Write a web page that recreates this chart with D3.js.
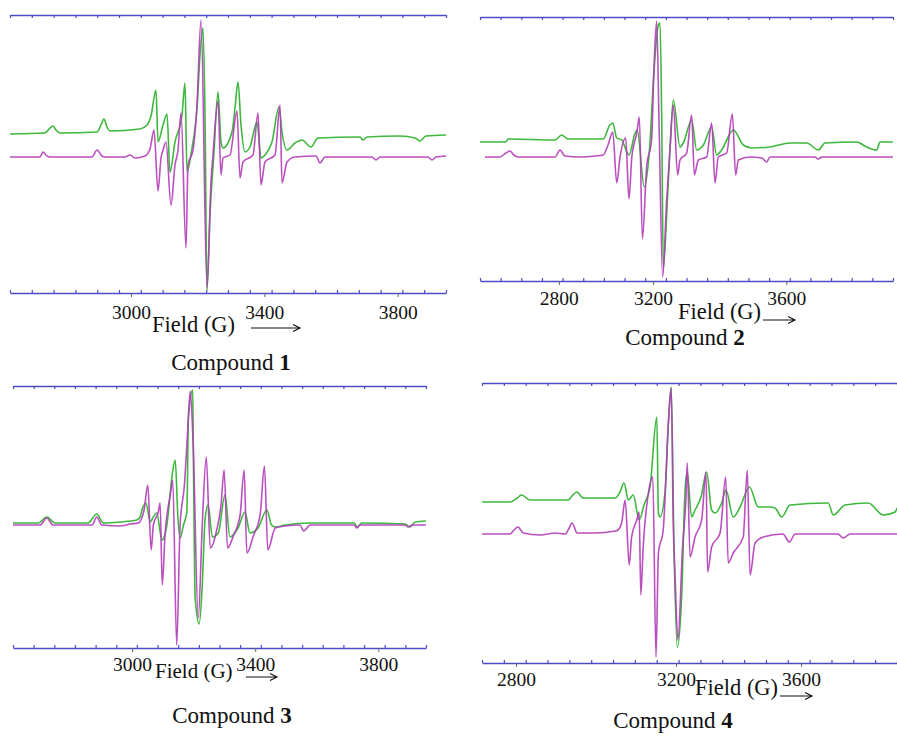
<!DOCTYPE html>
<html>
<head>
<meta charset="utf-8">
<script src="https://cdn.jsdelivr.net/npm/d3@7"></script>
<style>
  body { margin: 0; background: #fff; }
  svg text { font-family: "Liberation Serif", "Times New Roman", serif; fill: #111; }
</style>
</head>
<body>
<div id="chart"></div>
<script>
// EPR spectra, [field (G), intensity (a.u.)]
var c1Magenta = [[2637,0],[2727,0],[2736,5],[2748,1],[2757,0],[2883,0],[2898,7],[2913,1],[2922,0],[2982,0],[2997,2],[3012,-1],[3042,1],[3057,8],[3069,27],[3081,-34],[3090,-1],[3096,7],[3105,15],[3120,-48],[3132,-8],[3141,7],[3150,44],[3165,-91],[3171,-8],[3186,7],[3198,52],[3210,137],[3228,-131],[3240,-25],[3246,2],[3261,56],[3270,-18],[3276,-1],[3297,2],[3318,46],[3327,-21],[3336,-5],[3366,2],[3381,44],[3390,-28],[3402,-5],[3432,2],[3447,52],[3453,-26],[3468,-5],[3492,0],[3555,1],[3567,-6],[3582,0],[3723,0],[3735,-3],[3747,0],[3891,0],[3903,-3],[3915,0],[3945,1]];
var c1Green = [[2637,23],[2742,24],[2757,29],[2766,31],[2775,27],[2787,24],[2898,25],[2910,32],[2919,38],[2928,30],[2937,26],[3027,28],[3048,32],[3060,41],[3075,67],[3081,15],[3096,32],[3108,43],[3117,-15],[3132,15],[3153,42],[3162,74],[3168,-15],[3183,9],[3198,49],[3207,102],[3216,129],[3222,42],[3228,-133],[3237,-58],[3249,5],[3261,65],[3270,15],[3276,9],[3303,25],[3312,49],[3321,75],[3330,32],[3342,5],[3357,10],[3378,35],[3390,-1],[3402,2],[3423,15],[3444,50],[3453,25],[3468,7],[3492,14],[3513,17],[3540,10],[3561,19],[3687,20],[3696,17],[3708,20],[3807,21],[3852,19],[3867,16],[3885,21],[3945,22]];

var c2Magenta = [[2486,0],[2550,0],[2575,4],[2592,6],[2609,2],[2626,0],[2784,0],[2805,7],[2826,1],[2890,0],[2954,1],[2988,2],[3009,12],[3029,25],[3046,-26],[3060,0],[3084,19],[3098,-42],[3110,0],[3131,24],[3142,40],[3155,-82],[3173,-10],[3194,17],[3203,90],[3211,136],[3218,37],[3229,-120],[3241,-43],[3251,7],[3261,52],[3274,-18],[3281,-3],[3301,4],[3316,42],[3324,-18],[3336,-3],[3361,0],[3376,34],[3386,-26],[3396,0],[3421,4],[3438,43],[3448,-18],[3456,-3],[3491,0],[3527,-1],[3541,-5],[3551,0],[3686,0],[3695,-2],[3707,0],[3920,0]];
var c2Green = [[2465,15],[2575,15],[2584,18],[2784,17],[2812,22],[2839,18],[2988,18],[3017,32],[3029,34],[3046,19],[3067,17],[3098,2],[3124,24],[3133,27],[3163,-30],[3187,14],[3201,75],[3216,132],[3221,134],[3226,42],[3231,-111],[3241,-58],[3251,9],[3261,57],[3281,10],[3291,14],[3316,37],[3331,7],[3351,12],[3376,30],[3391,2],[3406,7],[3441,27],[3471,12],[3496,9],[3551,10],[3611,14],[3661,14],[3696,7],[3716,14],[3811,15],[3841,10],[3871,7],[3881,15],[3920,15]];

var c3Magenta = [[2613,0],[2701,0],[2723,7],[2743,0],[2870,0],[2885,8],[2902,0],[2961,-1],[2994,1],[3020,2],[3039,15],[3051,40],[3062,-25],[3069,0],[3085,13],[3091,22],[3098,-60],[3107,-10],[3124,30],[3132,45],[3145,-120],[3156,0],[3170,40],[3179,85],[3189,134],[3198,85],[3215,-93],[3228,0],[3241,68],[3254,-23],[3275,-5],[3289,20],[3299,55],[3310,-23],[3329,-11],[3351,10],[3364,55],[3373,-28],[3394,-11],[3416,10],[3430,59],[3441,-25],[3465,-3],[3497,-1],[3546,0],[3557,-6],[3579,0],[3722,0],[3730,-3],[3741,0],[3887,0],[3897,-2],[3910,0],[3955,0]];
var c3Green = [[2613,2],[2695,2],[2723,8],[2750,2],[2857,2],[2885,11],[2907,2],[2961,3],[3015,5],[3026,8],[3032,15],[3045,22],[3059,3],[3069,8],[3080,12],[3097,-15],[3113,0],[3129,47],[3140,65],[3149,7],[3156,-13],[3167,0],[3178,13],[3183,107],[3197,135],[3199,73],[3205,-73],[3218,-99],[3228,-60],[3237,5],[3247,20],[3261,-12],[3280,-8],[3302,30],[3318,-12],[3344,-3],[3367,13],[3383,-8],[3409,-3],[3438,15],[3453,0],[3465,-2],[3497,0],[3579,2],[3722,2],[3731,-2],[3747,2],[3887,1],[3903,-2],[3920,3],[3955,4]];

var c4Magenta = [[2715,0],[2785,0],[2795,4],[2805,7],[2818,1],[2860,-1],[2898,1],[2923,0],[2933,6],[2940,11],[2953,1],[2998,1],[3048,3],[3055,4],[3064,11],[3073,34],[3083,-31],[3089,-3],[3102,14],[3108,22],[3112,-61],[3118,-13],[3131,41],[3142,57],[3150,-123],[3156,-19],[3168,4],[3181,111],[3188,146],[3193,14],[3198,-46],[3206,-106],[3221,-13],[3232,37],[3236,71],[3245,-23],[3261,-3],[3282,14],[3296,62],[3301,-38],[3314,-13],[3341,1],[3359,57],[3367,-29],[3383,-19],[3415,-3],[3428,64],[3437,-41],[3453,-9],[3479,-3],[3542,0],[3563,-8],[3581,0],[3718,0],[3735,-4],[3757,0],[3907,0]];
var c4Green = [[2715,32],[2785,32],[2800,35],[2814,39],[2835,34],[2930,34],[2940,38],[2952,42],[2968,36],[3048,36],[3060,42],[3070,51],[3081,34],[3093,39],[3108,14],[3120,29],[3135,47],[3152,117],[3156,21],[3160,17],[3173,44],[3181,111],[3188,147],[3195,-13],[3204,-113],[3218,-63],[3229,44],[3236,62],[3250,17],[3261,24],[3280,37],[3298,62],[3314,24],[3325,21],[3346,31],[3360,44],[3383,17],[3405,27],[3435,47],[3463,27],[3501,27],[3517,26],[3538,17],[3565,29],[3687,31],[3703,19],[3741,29],[3815,31],[3863,19],[3901,22],[3907,26]];

var c1Ticks = [3000, 3400, 3800];
var c2Ticks = [2800, 3200, 3600];
var c3Ticks = [3000, 3400, 3800];
var c4Ticks = [2800, 3200, 3600];

var axisColor = "#4b4bc8",
    greenColor = "#3db83d",
    magentaColor = "#b23cb8";

// layout of the four panels
var panels = [
  {num: "1", magenta: c1Magenta, green: c1Green, ticks: c1Ticks,
   field: [2637, 3945], px: [10, 446], top: 15, bottom: 293, yDomain: [-136, 142], minor: 20,
   labelDy: 26, fieldX: 152, fieldY: 332, fieldSize: 22.5, arrow: [251, 300, 328], capX: 231, capY: 370},
  {num: "2", magenta: c2Magenta, green: c2Green, ticks: c2Ticks,
   field: [2465, 3200, 3920], px: [480, 653, 893], top: 17, bottom: 281, yDomain: [-124, 140], minor: 20,
   labelDy: 24, fieldX: 678, fieldY: 319, fieldSize: 22.5, arrow: [763, 795, 320], capX: 685, capY: 345},
  {num: "3", magenta: c3Magenta, green: c3Green, ticks: c3Ticks,
   field: [2613, 3955], px: [13, 426], top: 386, bottom: 648, yDomain: [-123, 139], minor: 20,
   labelDy: 23, fieldX: 155, fieldY: 678, fieldSize: 21, arrow: [246, 277, 677], capX: 232, capY: 723},
  {num: "4", magenta: c4Magenta, green: c4Green, ticks: c4Ticks,
   field: [2715, 3200, 3907], px: [482, 676, 897], top: 383, bottom: 663, yDomain: [-129, 151], minor: 19,
   labelDy: 23, fieldX: 695, fieldY: 695, fieldSize: 22.5, arrow: [780, 812, 696], capX: 673, capY: 728}
];

var svg = d3.select("#chart")
  .append("svg")
  .attr("width", 897)
  .attr("height", 736);

panels.forEach(function(p) {
  var x = d3.scaleLinear().domain(p.field).range(p.px);
  var y = d3.scaleLinear().domain(p.yDomain).range([p.bottom, p.top]);

  var g = svg.append("g").attr("class", "panel");

  // minor ticks evenly spaced along each frame line
  var r0 = p.px[0], r1 = p.px[p.px.length - 1];
  var minorVals = d3.range(p.minor + 1).map(function(i) { return x.invert(r0 + i * (r1 - r0) / p.minor); });

  var topAxis = g.append("g")
      .attr("transform", "translate(0," + p.top + ")")
      .call(d3.axisTop(x).tickValues(minorVals).tickSize(-3).tickSizeOuter(0).tickFormat(""));

  var bottomAxis = g.append("g")
      .attr("transform", "translate(0," + p.bottom + ")")
      .call(d3.axisBottom(x).tickValues(minorVals).tickSize(-3).tickSizeOuter(0).tickFormat(""));

  var labelAxis = g.append("g")
      .attr("transform", "translate(0," + p.bottom + ")")
      .call(d3.axisBottom(x).tickValues(p.ticks).tickSize(4).tickSizeOuter(0).tickFormat(d3.format("d")));
  labelAxis.attr("font-family", null).attr("font-size", null);
  labelAxis.select(".domain").remove();
  labelAxis.selectAll("line").attr("stroke", "#666");
  labelAxis.selectAll("text")
      .attr("y", p.labelDy)
      .attr("dy", 0)
      .style("font-size", "19.5px")
      .attr("fill", "#111");

  [topAxis, bottomAxis].forEach(function(a) {
    a.select(".domain").attr("stroke", axisColor).attr("stroke-width", 1.6);
    a.selectAll(".tick line").attr("stroke", axisColor).attr("stroke-width", 1.2);
  });

  var line = d3.line()
      .curve(d3.curveMonotoneX)
      .x(function(d) { return x(d[0]); })
      .y(function(d) { return y(d[1]); });

  g.append("path")
      .datum(p.green)
      .attr("d", line)
      .attr("fill", "none")
      .attr("stroke", greenColor)
      .attr("stroke-width", 1.6)
      .attr("stroke-linejoin", "round");

  g.append("path")
      .datum(p.magenta)
      .attr("d", line)
      .attr("fill", "none")
      .attr("stroke", magentaColor)
      .attr("stroke-width", 1.6)
      .attr("stroke-opacity", 0.9)
      .attr("stroke-linejoin", "round");

  g.append("text")
      .attr("x", p.fieldX)
      .attr("y", p.fieldY)
      .style("font-size", p.fieldSize + "px")
      .text("Field (G)");

  var a = p.arrow;
  g.append("path")
      .attr("d", "M" + a[0] + "," + a[2] + "H" + a[1] + "M" + (a[1] - 7) + "," + (a[2] - 3.5) + "L" + a[1] + "," + a[2] + "L" + (a[1] - 7) + "," + (a[2] + 3.5))
      .attr("fill", "none")
      .attr("stroke", "#111")
      .attr("stroke-width", 1.1);

  var cap = g.append("text")
      .attr("x", p.capX)
      .attr("y", p.capY)
      .attr("text-anchor", "middle")
      .style("font-size", "23px");
  cap.append("tspan").text("Compound ");
  cap.append("tspan").style("font-weight", "bold").text(p.num);
});
</script>
</body>
</html>
